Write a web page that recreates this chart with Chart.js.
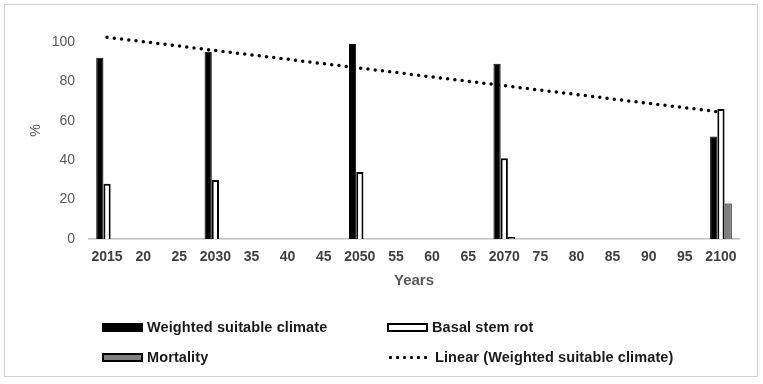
<!DOCTYPE html>
<html>
<head>
<meta charset="utf-8">
<script src="https://cdn.jsdelivr.net/npm/chart.js@4.4.1/dist/chart.umd.min.js"></script>
<style>
  body { margin: 0; background: #fff; }
  #wrap { position: relative; width: 763px; height: 384px; }
  #frame { position: absolute; left: 4px; top: 4px; width: 754px; height: 373px;
           border: 1px solid #d0d0d0; box-sizing: border-box; pointer-events: none; }
  #legend { position: absolute; left: 102px; top: 318px; display: grid;
            grid-template-columns: 285px 300px; row-gap: 12px;
            font-family: "Liberation Sans", Arial, sans-serif; font-weight: bold;
            font-size: 14.5px; letter-spacing: 0.1px; color: #1a1a1a; }
  .item { display: flex; align-items: center; height: 18px; white-space: nowrap; }
  .box { width: 41px; height: 9px; box-sizing: border-box; margin-right: 4px; flex: none; }
  .dots { width: 40px; height: 3px; margin-right: 8px; flex: none;
          background: radial-gradient(circle, #000 1.3px, transparent 1.7px) 0 0 / 7px 3px repeat-x; }
</style>
</head>
<body>
<div id="wrap">
  <canvas id="chart" width="763" height="384"></canvas>
  <div id="frame"></div>
  <div id="legend"></div>
</div>
<script>
const years = ['2015', '20', '25', '2030', '35', '40', '45', '2050', '55', '60', '65',
               '2070', '75', '80', '85', '90', '95', '2100'];

// values, null where the year has no bar
const weightedClimate = [92, null, null, 95, null, null, null, 99, null, null, null,
                         89, null, null, null, null, null, 52];
const basalStemRot = [28, null, null, 30, null, null, null, 34, null, null, null,
                      41, null, null, null, null, null, 66];
const mortality = [0, null, null, 0, null, null, null, 0, null, null, null,
                   1, null, null, null, null, null, 18];
// Excel linear trendline, ends
const linearTrend = [102.4, null, null, null, null, null, null, null, null, null, null,
                     null, null, null, null, null, null, 64.4];

const tickFont = { family: '"Liberation Sans", Arial, sans-serif', size: 14 };

// y title drawn by hand: Excel puts it a bit above the plot middle
const yTitle = {
    id: 'yTitle',
    afterDraw(chart) {
        const { ctx, chartArea } = chart;
        ctx.save();
        ctx.translate(36, chartArea.top + chartArea.height * 0.45);
        ctx.rotate(-Math.PI / 2);
        ctx.font = '14px "Liberation Sans", Arial, sans-serif';
        ctx.fillStyle = '#595959';
        ctx.textAlign = 'center';
        ctx.textBaseline = 'middle';
        ctx.fillText('%', 0, 0);
        ctx.restore();
    }
};

const chart = new Chart(document.getElementById('chart'), {
    type: 'bar',
    data: {
        labels: years,
        datasets: [
            { label: 'Weighted suitable climate', data: weightedClimate,
              backgroundColor: '#000', borderColor: '#000', borderWidth: 1 },
            { label: 'Basal stem rot', data: basalStemRot,
              backgroundColor: '#fff', borderColor: '#000', borderWidth: 2 },
            { label: 'Mortality', data: mortality,
              backgroundColor: '#808080', borderColor: '#000', borderWidth: 1 },
            { type: 'line', label: 'Linear (Weighted suitable climate)', data: linearTrend,
              borderColor: '#000', borderWidth: 3.5, borderDash: [0, 7.3], borderCapStyle: 'round',
              pointRadius: 0, spanGaps: true, clip: false, fill: false }
        ]
    },
    options: {
        responsive: false,
        animation: false,
        layout: { padding: { left: 20, right: 24, top: 42, bottom: 85 } },
        datasets: { bar: { categoryPercentage: 0.6, barPercentage: 1.0 } },
        plugins: { legend: { display: false }, tooltip: { enabled: false } },
        scales: {
            x: {
                grid: { display: false, drawTicks: false },
                border: { color: '#bfbfbf', width: 1.5 },
                ticks: { font: { ...tickFont, weight: 'bold' }, color: '#404040',
                         padding: 10, maxRotation: 0, autoSkip: false },
                title: { display: true, text: 'Years', color: '#595959',
                         font: { ...tickFont, size: 15, weight: 'bold' }, padding: { top: 0, bottom: 9 } },
                afterFit: s => { s.height = 60; }
            },
            y: {
                min: 0, max: 100,
                grid: { display: false, drawTicks: false },
                border: { display: false },
                ticks: { stepSize: 20, font: tickFont, color: '#595959', padding: 14 },
                afterFit: s => { s.width = 69; }
            }
        }
    },
    plugins: [yTitle]
});

// two-column legend like Excel's
const legend = document.getElementById('legend');
chart.data.datasets.forEach(ds => {
    const item = document.createElement('div');
    item.className = 'item';
    const mark = document.createElement('span');
    if (ds.type === 'line') {
        mark.className = 'dots';
    } else {
        mark.className = 'box';
        mark.style.background = ds.backgroundColor;
        mark.style.border = '2px solid ' + ds.borderColor;
    }
    item.appendChild(mark);
    item.appendChild(document.createTextNode(ds.label));
    legend.appendChild(item);
});
</script>
</body>
</html>
